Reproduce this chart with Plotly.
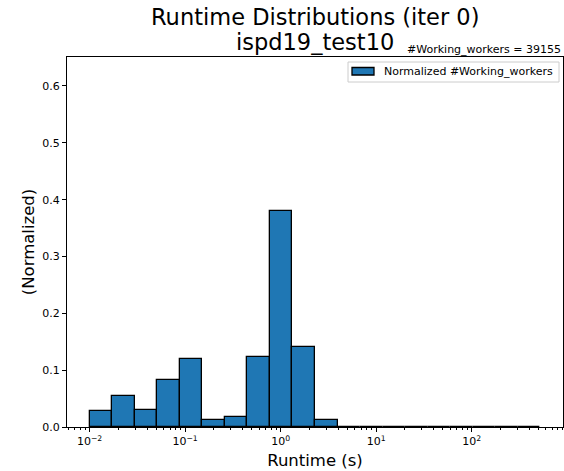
import numpy as np
import plotly.graph_objects as go

# Data: log-spaced histogram of runtimes (normalized)
runtime_min = 0.01
runtime_max = 525.0
n_bins = 20
bin_values = [0.028, 0.055, 0.030, 0.083, 0.119, 0.012, 0.017, 0.123, 0.380, 0.141,
              0.012, 0.0004, 0.0004, 0.0004, 0.0004, 0.0004, 0.0004, 0.0004, 0.0004, 0.0004]
series_name = "Normalized #Working_workers"
n_workers = 39155
title_lines = ["Runtime Distributions (iter 0)", "ispd19_test10"]
major_exponents = [-2, -1, 0, 1, 2]
major_labels = ["10<sup>\u22122</sup>", "10<sup>\u22121</sup>", "10<sup>0</sup>", "10<sup>1</sup>", "10<sup>2</sup>"]
y_ticks = [0.0, 0.1, 0.2, 0.3, 0.4, 0.5, 0.6]

edges = np.linspace(np.log10(runtime_min), np.log10(runtime_max), n_bins + 1)
centers = (edges[:-1] + edges[1:]) / 2
widths = np.diff(edges)

span = edges[-1] - edges[0]
xr = [edges[0] - 0.05 * span, edges[-1] + 0.05 * span]

minor_vals = []
for k in range(-3, 4):
    for m in range(2, 10):
        v = k + np.log10(m)
        if xr[0] <= v <= xr[1]:
            minor_vals.append(v)

W, H = 564, 471
L, R, T, B = 67, 563, 57, 427
def px(x):
    return (x - L) / (R - L)
def py(y):
    return (B - y) / (B - T)

font = "DejaVu Sans"
blue = "#1f77b4"
fig = go.Figure()
fig.add_trace(go.Bar(
    x=centers, y=bin_values, width=widths,
    marker=dict(color=blue, line=dict(color="black", width=1.3)),
    name=series_name, showlegend=False,
))

fig.update_layout(
    width=W, height=H,
    margin=dict(l=L, r=W - R, t=T, b=H - B),
    paper_bgcolor="white", plot_bgcolor="white",
    font=dict(family=font, size=11, color="black"),
    bargap=0,
    showlegend=False,
    xaxis=dict(range=xr, showline=True, linecolor="black", linewidth=1, mirror=True,
               showgrid=False, zeroline=False,
               tickmode="array", tickvals=major_exponents, ticktext=major_labels,
               ticks="outside", ticklen=4, tickcolor="black",
               minor=dict(tickmode="array", tickvals=minor_vals, ticks="outside",
                          ticklen=2, tickcolor="black", showgrid=False),
               title=dict(text="Runtime (s)", font=dict(size=16.5, family=font), standoff=7),
               tickfont=dict(size=11)),
    yaxis=dict(range=[0, 0.651], showline=True, linecolor="black", linewidth=1, mirror=True,
               showgrid=False, zeroline=False,
               tickmode="array", tickvals=y_ticks, ticktext=[f"{v:.1f}" for v in y_ticks],
               ticks="outside", ticklen=4, tickcolor="black",
               title=dict(text="(Normalized)", font=dict(size=16.5, family=font), standoff=3),
               tickfont=dict(size=11)),
)

# Title (two lines)
fig.add_annotation(text=title_lines[0], xref="paper", yref="paper", x=0.5, y=1,
                   xanchor="center", yanchor="middle", yshift=T - 17, showarrow=False,
                   font=dict(size=22.5, family=font))
fig.add_annotation(text=title_lines[1], xref="paper", yref="paper", x=0.5, y=1,
                   xanchor="center", yanchor="middle", yshift=T - 42, showarrow=False,
                   font=dict(size=22.5, family=font))

fig.add_annotation(text=f"#Working_workers = {n_workers}", xref="paper", yref="paper",
                   x=1.0, y=1.0, xanchor="right", yanchor="bottom", showarrow=False,
                   font=dict(size=11, family=font), yshift=-1)

# Legend drawn in matplotlib style
fig.add_shape(type="rect", xref="paper", yref="paper",
              x0=px(348), x1=px(559), y0=py(82), y1=py(62),
              line=dict(color="#cccccc", width=1), fillcolor="rgba(255,255,255,0.8)")
fig.add_shape(type="rect", xref="paper", yref="paper",
              x0=px(352), x1=px(374), y0=py(75), y1=py(67.5),
              line=dict(color="black", width=1.3), fillcolor=blue)
fig.add_annotation(text=series_name, xref="paper", yref="paper",
                   x=px(382), y=py(71.5), xanchor="left", yanchor="middle", showarrow=False,
                   font=dict(size=11, family=font))

fig.write_html("out.html")
